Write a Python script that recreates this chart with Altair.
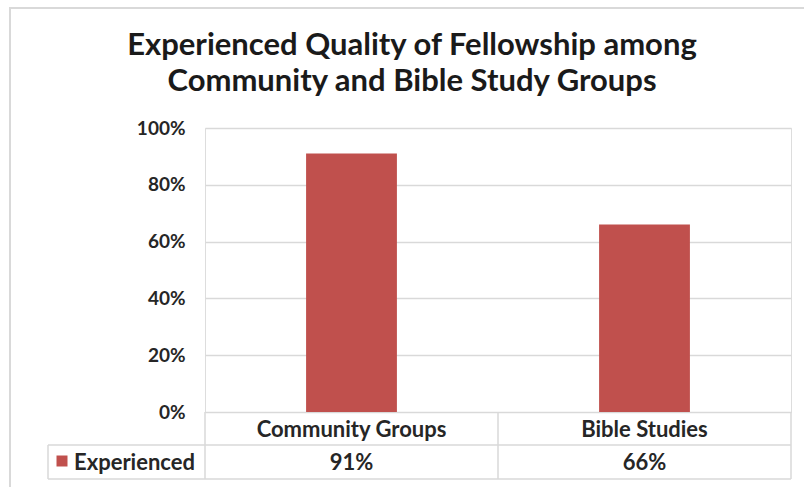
import altair as alt
import pandas as pd

categories = ["Community Groups", "Bible Studies"]
experienced = [0.91, 0.66]
series_name = "Experienced"
y_ticks = [0, 0.2, 0.4, 0.6, 0.8, 1.0]
title_lines = ["Experienced Quality of Fellowship among", "Community and Bible Study Groups"]

df = pd.DataFrame({"cat": categories, "value": experienced})
df["label"] = [f"{round(v * 100)}%" for v in experienced]

RED = "#c0504d"
GRID = "#d9d9d9"
FONT = "Lato"
TXT = "#262626"

base = alt.Chart(df)

xenc = alt.X("cat:N", sort=categories,
             scale=alt.Scale(paddingInner=0.69, paddingOuter=0.345), axis=None)

bars = base.mark_bar(color=RED).encode(
    x=xenc,
    y=alt.Y("value:Q", scale=alt.Scale(domain=[0, 1]),
            axis=alt.Axis(values=y_ticks, format=".0%", title=None, grid=True,
                          gridColor=GRID, gridWidth=1.5, domain=False, ticks=False,
                          labelPadding=20, labelFontSize=19, labelFont=FONT,
                          labelColor=TXT, labelFontWeight="bold")),
)

header = base.mark_text(font=FONT, fontSize=22, fontWeight="bold", color=TXT,
                        baseline="middle").encode(
    x=xenc, y=alt.value(302), text="cat:N")
values = base.mark_text(font=FONT, fontSize=22, fontWeight="bold", color=TXT,
                        baseline="middle").encode(
    x=xenc, y=alt.value(335), text="label:N")

one = alt.Chart(pd.DataFrame({"k": [series_name]}))

def hrule(y, x1, x2):
    return one.mark_rule(color=GRID, strokeWidth=1.5).encode(
        x=alt.value(x1), x2=alt.value(x2), y=alt.value(y))

def vrule(x, y1, y2):
    return one.mark_rule(color=GRID, strokeWidth=1.5).encode(
        x=alt.value(x), y=alt.value(y1), y2=alt.value(y2))

lines = [
    hrule(317, -157, 586), hrule(351, -157, 586),
    vrule(-157, 317, 351), vrule(0, 284, 351), vrule(293, 284, 351), vrule(586, 284, 351),
]

key = one.mark_square(color=RED, size=121, opacity=1).encode(
    x=alt.value(-143), y=alt.value(333))
key_text = one.mark_text(font=FONT, fontSize=22, fontWeight="bold", color=TXT,
                         align="left", baseline="middle").encode(
    x=alt.value(-131), y=alt.value(335), text="k:N")

title_df = pd.DataFrame({"t": title_lines, "i": [0, 1]})
title1 = alt.Chart(title_df.iloc[[0]]).mark_text(
    font=FONT, fontSize=31, fontWeight="bold", color="#1a1a1a", align="center",
    baseline="alphabetic").encode(x=alt.value(207), y=alt.value(-73), text="t:N")
title2 = alt.Chart(title_df.iloc[[1]]).mark_text(
    font=FONT, fontSize=31, fontWeight="bold", color="#1a1a1a", align="center",
    baseline="alphabetic").encode(x=alt.value(207), y=alt.value(-37), text="t:N")

frame = one.mark_rect(fill=None, stroke=GRID, strokeWidth=2).encode(
    x=alt.value(-195), x2=alt.value(640), y=alt.value(-120), y2=alt.value(400))

chart = alt.layer(frame, bars, *lines, header, values, key, key_text,
                  title1, title2).properties(
    width=586, height=284,
    autosize=alt.AutoSizeParams(type="none"),
    padding={"left": 205, "top": 128, "right": 13, "bottom": 75},
).configure_view(stroke=None).configure(background="white")

chart.save("out.html", embed_options={"renderer": "svg", "actions": False})
